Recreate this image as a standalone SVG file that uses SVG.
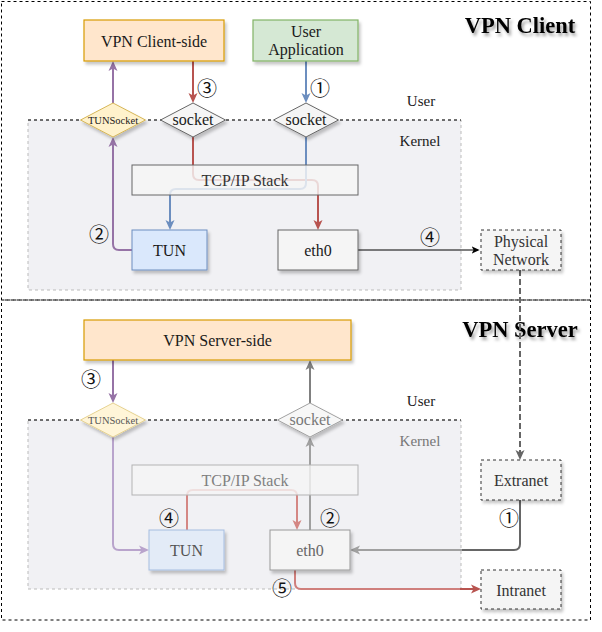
<svg xmlns="http://www.w3.org/2000/svg" width="602" height="632" viewBox="0 0 602 632" font-family="'Liberation Serif', serif">
<style>
text{font-family:"Liberation Serif","Times New Roman",serif;text-anchor:middle;fill:#1a1a1a}
.n{font-family:"Liberation Serif","Times New Roman",serif;font-size:16px}
.s{font-family:"Liberation Serif","Times New Roman",serif;font-size:10.5px}
.lbl{font-family:"Liberation Serif","Times New Roman",serif;font-size:15px}
.title{font-family:"Liberation Serif","Times New Roman",serif;font-size:22.5px;font-weight:bold;fill:#000}
.num{font-family:"Noto Sans CJK SC","DejaVu Sans",sans-serif;font-size:20px;dominant-baseline:central;fill:#111}
.area{fill:none;stroke:#000;stroke-width:1;stroke-dasharray:3 3}
.kern{fill:#f1f1f4;stroke:#bbb;stroke-width:1;stroke-dasharray:3 3}
.div{stroke:#000;stroke-width:1;stroke-dasharray:3 3;fill:none}
.c{fill:none;stroke-width:2;stroke-linejoin:round}
</style>
<defs>
<filter id="sh" x="-20%" y="-20%" width="150%" height="160%">
<feDropShadow dx="2" dy="3" stdDeviation="1.5" flood-color="#000" flood-opacity="0.22"/>
</filter>
<filter id="tsh" x="-10%" y="-30%" width="130%" height="170%">
<feDropShadow dx="2" dy="3" stdDeviation="1.5" flood-color="#000" flood-opacity="0.35"/>
</filter>
<marker id="aP" viewBox="0 0 10 10" refX="7" refY="5" markerWidth="10" markerHeight="10" markerUnits="userSpaceOnUse" orient="auto"><path d="M0,0.5 L10,5 L0,9.5 L2.5,5 Z" fill="#9673a6"/></marker>
<marker id="aPl" viewBox="0 0 10 10" refX="7" refY="5" markerWidth="10" markerHeight="10" markerUnits="userSpaceOnUse" orient="auto"><path d="M0,0.5 L10,5 L0,9.5 L2.5,5 Z" fill="#b9a4cc"/></marker>
<marker id="aR" viewBox="0 0 10 10" refX="7" refY="5" markerWidth="10" markerHeight="10" markerUnits="userSpaceOnUse" orient="auto"><path d="M0,0.5 L10,5 L0,9.5 L2.5,5 Z" fill="#b85450"/></marker>
<marker id="aRl" viewBox="0 0 10 10" refX="7" refY="5" markerWidth="10" markerHeight="10" markerUnits="userSpaceOnUse" orient="auto"><path d="M0,0.5 L10,5 L0,9.5 L2.5,5 Z" fill="#d48784"/></marker>
<marker id="aB" viewBox="0 0 10 10" refX="7" refY="5" markerWidth="10" markerHeight="10" markerUnits="userSpaceOnUse" orient="auto"><path d="M0,0.5 L10,5 L0,9.5 L2.5,5 Z" fill="#6c8ebf"/></marker>
<marker id="aG" viewBox="0 0 10 10" refX="7" refY="5" markerWidth="10" markerHeight="10" markerUnits="userSpaceOnUse" orient="auto"><path d="M0,0.5 L10,5 L0,9.5 L2.5,5 Z" fill="#666"/></marker>
<marker id="aG2" viewBox="0 0 10 10" refX="7" refY="5" markerWidth="10" markerHeight="10" markerUnits="userSpaceOnUse" orient="auto"><path d="M0,0.5 L10,5 L0,9.5 L2.5,5 Z" fill="#808080"/></marker>
<marker id="aGl" viewBox="0 0 10 10" refX="7" refY="5" markerWidth="10" markerHeight="10" markerUnits="userSpaceOnUse" orient="auto"><path d="M0,0.5 L10,5 L0,9.5 L2.5,5 Z" fill="#a0a0a0"/></marker>
<marker id="aK" viewBox="0 0 10 10" refX="8" refY="5" markerWidth="8" markerHeight="8" markerUnits="userSpaceOnUse" orient="auto"><path d="M0,0.5 L10,5 L0,9.5 L2.5,5 Z" fill="#000"/></marker>
</defs>

<g id="areas">
<rect class="area" x="1.5" y="1.5" width="589" height="298.5"/>
<rect class="area" x="1.5" y="300" width="589" height="320"/>
<rect class="kern" x="28" y="120" width="433" height="170"/>
<rect class="kern" x="28" y="420" width="433" height="169"/>
<line class="div" x1="28" y1="120" x2="461" y2="120"/>
<line class="div" x1="28" y1="420" x2="461" y2="420" stroke="#555"/>
<text class="title" x="520" y="33" filter="url(#tsh)">VPN Client</text>
<text class="title" x="520" y="337" filter="url(#tsh)">VPN Server</text>
<text class="lbl" x="421" y="106">User</text>
<text class="lbl" x="420" y="146">Kernel</text>
<text class="lbl" x="421" y="406">User</text>
<text class="lbl" x="420" y="446" style="fill:#777">Kernel</text>
</g>

<g id="connectors">
<path class="c" stroke="#9673a6" d="M132,250 H119 Q113,250 113,244 V140" marker-end="url(#aP)"/>
<path class="c" stroke="#9673a6" d="M113,103 V64" marker-end="url(#aP)"/>
<path class="c" stroke="#b85450" d="M193,61 V100" marker-end="url(#aR)"/>
<path class="c" stroke="#b85450" d="M193,137 V174 Q193,180 199,180 H312 Q318,180 318,186 V227" marker-end="url(#aR)"/>
<path class="c" stroke="#6c8ebf" d="M306,61 V100" marker-end="url(#aB)"/>
<path class="c" stroke="#6c8ebf" d="M306,137 V183 Q306,189 300,189 H176 Q170,189 170,195 V227" marker-end="url(#aB)"/>
<path fill="none" stroke="#000" stroke-width="1" d="M358,250 H478" marker-end="url(#aK)"/>
<path class="c" stroke="#666" stroke-width="2.5" stroke-dasharray="6 3" d="M520,270 V457" marker-end="url(#aG)"/>

<path class="c" stroke="#9673a6" d="M113,360 V400" marker-end="url(#aP)"/>
<path class="c" stroke="#b9a4cc" d="M113,437 V544 Q113,550 119,550 H146" marker-end="url(#aPl)"/>
<path class="c" stroke="#a0a0a0" d="M310,530 V440" marker-end="url(#aGl)"/>
<path class="c" stroke="#808080" d="M310,403 V363" marker-end="url(#aG2)"/>
<path class="c" stroke="#d48784" d="M187,530 V496 Q187,490 193,490 H291 Q297,490 297,496 V527" marker-end="url(#aRl)"/>
<path class="c" stroke="#666" d="M520,500 V544 Q520,550 514,550 H461"/>
<path class="c" stroke="#a0a0a0" d="M462,550 H353" marker-end="url(#aGl)"/>
<path class="c" stroke="#cf7f7c" d="M295,570 V583 Q295,589 301,589 H462"/>
<path class="c" stroke="#b85450" d="M460,589 H478" marker-end="url(#aR)"/>

<text class="num" x="207" y="87">③</text>
<text class="num" x="320" y="87">①</text>
<text class="num" x="99" y="233">②</text>
<text class="num" x="430" y="236">④</text>
<text class="num" x="91" y="378">③</text>
<text class="num" x="169" y="517">④</text>
<text class="num" x="330" y="517">②</text>
<text class="num" x="509" y="517">①</text>
<text class="num" x="282" y="587">⑤</text>
</g>

<g id="vpn-client-side">
<rect x="84" y="20" width="140" height="41" fill="#ffe6cc" stroke="#d79b00" stroke-width="1.2" filter="url(#sh)"/>
<text class="n" x="154" y="46.5">VPN Client-side</text>
</g>
<g id="user-application">
<rect x="253" y="20" width="105" height="41" fill="#d5e8d4" stroke="#82b366" stroke-width="1.2" filter="url(#sh)"/>
<text class="n" x="306" y="37">User</text>
<text class="n" x="306" y="55">Application</text>
</g>
<g id="client-tunsocket">
<path d="M113,103 L145.5,120 L113,137 L80.5,120 Z" fill="#fff2cc" stroke="#d6b656" filter="url(#sh)"/>
<text class="s" x="113" y="123.5">TUNSocket</text>
</g>
<g id="client-socket-1">
<path d="M193,103 L225.5,120 L193,137 L160.5,120 Z" fill="#f5f5f5" stroke="#666" filter="url(#sh)"/>
<text class="n" x="193" y="125">socket</text>
</g>
<g id="client-socket-2">
<path d="M306,103 L338.5,120 L306,137 L273.5,120 Z" fill="#f5f5f5" stroke="#666" filter="url(#sh)"/>
<text class="n" x="306" y="125">socket</text>
</g>
<g id="client-tcpip">
<rect x="132" y="165" width="226" height="30" fill="#f5f5f5" fill-opacity="0.82" stroke="#666"/>
<text class="n" x="245" y="186" fill="#333" style="fill:#333">TCP/IP Stack</text>
</g>
<g id="client-tun">
<rect x="132" y="230" width="75" height="40" fill="#dae8fc" stroke="#6c8ebf" filter="url(#sh)"/>
<text class="n" x="169.5" y="256">TUN</text>
</g>
<g id="client-eth0">
<rect x="278" y="230" width="80" height="40" fill="#f5f5f5" stroke="#666" filter="url(#sh)"/>
<text class="n" x="318" y="256">eth0</text>
</g>
<g id="physical-network">
<rect x="481" y="230" width="80" height="40" fill="#f5f5f5" stroke="#333" stroke-dasharray="3 3" filter="url(#sh)"/>
<text class="n" x="521" y="246.5" style="fill:#333">Physical</text>
<text class="n" x="521" y="264.5" style="fill:#333">Network</text>
</g>

<g id="vpn-server-side">
<rect x="84" y="320" width="267" height="40" fill="#ffe6cc" stroke="#d79b00" stroke-width="1.2" filter="url(#sh)"/>
<text class="n" x="217.5" y="346">VPN Server-side</text>
</g>
<g id="server-tunsocket">
<path d="M113,403 L145.5,420 L113,437 L80.5,420 Z" fill="#fff5d8" stroke="#e6d290" filter="url(#sh)"/>
<text class="s" x="113" y="423.5" style="fill:#555">TUNSocket</text>
</g>
<g id="server-socket">
<path d="M310,403 L342.5,420 L310,437 L277.5,420 Z" fill="#f7f7f7" stroke="#a0a0a0" filter="url(#sh)"/>
<text class="n" x="310" y="425" style="fill:#777">socket</text>
</g>
<g id="server-tcpip">
<rect x="132" y="465" width="226" height="30" fill="#f5f5f5" fill-opacity="0.8" stroke="#b3b3b3"/>
<text class="n" x="245" y="486" style="fill:#808080">TCP/IP Stack</text>
</g>
<g id="server-tun">
<rect x="149" y="530" width="75" height="40" fill="#e3ebf7" stroke="#a5bde0" filter="url(#sh)"/>
<text class="n" x="186.5" y="556" style="fill:#555">TUN</text>
</g>
<g id="server-eth0">
<rect x="270" y="530" width="80" height="40" fill="#f5f5f5" stroke="#999" filter="url(#sh)"/>
<text class="n" x="310" y="556" style="fill:#666">eth0</text>
</g>
<g id="extranet">
<rect x="481" y="460" width="80" height="40" fill="#f5f5f5" stroke="#333" stroke-dasharray="3 3" filter="url(#sh)"/>
<text class="n" x="521" y="486" style="fill:#333">Extranet</text>
</g>
<g id="intranet">
<rect x="481" y="570" width="80" height="39" fill="#f5f5f5" stroke="#333" stroke-dasharray="3 3" filter="url(#sh)"/>
<text class="n" x="521" y="595.5" style="fill:#333">Intranet</text>
</g>
</svg>
